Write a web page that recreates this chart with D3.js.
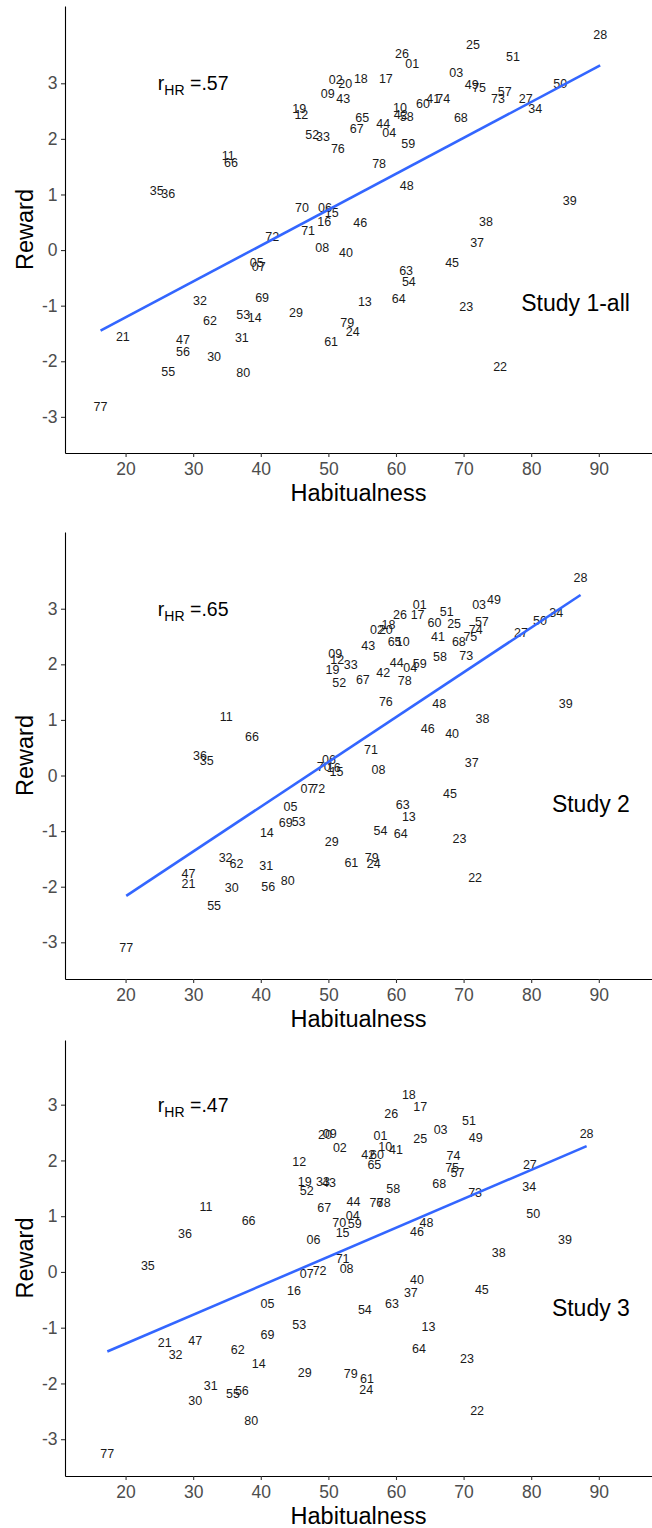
<!DOCTYPE html>
<html>
<head>
<meta charset="utf-8">
<script src="https://cdn.jsdelivr.net/npm/d3@7"></script>
<style>
  body { margin: 0; background: #fff; }
  text { font-family: "Liberation Sans", Arial, Helvetica, sans-serif; }
</style>
</head>
<body>
<svg id="chart" width="652" height="1528"></svg>
<script>
// Participant ids, used as the text label of every point
const ids = ["01","02","03","04","05","06","07","08","09","10",
  "11","12","13","14","15","16","17","18","19","20",
  "21","22","23","24","25","26","27","28","29","30",
  "31","32","33","34","35","36","37","38","39","40",
  "41","42","43","44","45","46","47","48","49","50",
  "51","52","53","54","55","56","57","58","59","60",
  "61","62","63","64","65","66","67","68","69","70",
  "71","72","73","74","75","76","77","78","79","80"]

// Study 1-all
const habit1 = [62.4,51.1,68.9,59.0,39.4,49.5,39.7,49.1,49.9,60.6,
  35.2,46.0,55.4,39.1,50.5,49.4,58.5,54.8,45.7,52.5,
  19.6,75.4,70.4,53.6,71.4,60.9,79.2,90.2,45.2,33.1,
  37.2,31.0,49.2,80.6,24.6,26.3,72.0,73.3,85.7,52.6,
  65.5,60.7,52.2,58.1,68.3,54.7,28.5,61.6,71.2,84.3,
  77.3,47.6,37.4,61.9,26.3,28.5,76.1,61.6,61.8,64.0,
  50.4,32.5,61.5,60.4,55.0,35.6,54.2,69.6,40.2,46.1,
  47.0,41.7,75.1,67.0,72.3,51.4,16.3,57.5,52.8,37.4]
const reward1 = [3.35,3.06,3.20,2.12,-0.22,0.77,-0.29,0.04,2.81,2.57,
  1.71,2.43,-0.92,-1.21,0.67,0.52,3.09,3.09,2.55,3.00,
  -1.55,-2.09,-1.01,-1.47,3.69,3.54,2.73,3.88,-1.12,-1.91,
  -1.58,-0.90,2.05,2.55,1.08,1.01,0.13,0.52,0.90,-0.04,
  2.73,2.43,2.72,2.27,-0.22,0.49,-1.60,1.17,2.97,3.00,
  3.49,2.07,-1.15,-0.56,-2.19,-1.83,2.86,2.41,1.91,2.64,
  -1.64,-1.26,-0.36,-0.88,2.39,1.58,2.18,2.39,-0.85,0.77,
  0.36,0.25,2.72,2.73,2.93,1.83,-2.82,1.56,-1.31,-2.21]

// Study 2
const habit2 = [63.5,57.2,72.3,62.1,44.4,50.1,46.9,57.4,51.0,61.0,
  34.9,51.3,61.9,40.9,51.2,50.8,63.2,58.9,50.6,58.5,
  29.3,71.7,69.4,56.7,68.6,60.6,78.5,87.3,50.5,35.7,
  40.8,34.8,53.3,83.7,32.0,31.0,71.2,72.8,85.1,68.3,
  66.2,58.1,55.9,60.1,68.0,64.7,29.3,66.4,74.5,81.3,
  67.5,51.6,45.6,57.7,33.1,41.1,72.7,66.5,63.5,65.7,
  53.4,36.4,61.0,60.7,59.8,38.7,55.1,69.3,43.7,49.3,
  56.3,48.5,70.4,71.8,71.0,58.5,20.1,61.3,56.4,44.0]
const reward2 = [3.07,2.63,3.07,1.94,-0.56,0.28,-0.23,0.10,2.19,2.41,
  1.06,2.08,-0.74,-1.03,0.07,0.15,2.89,2.71,1.91,2.63,
  -1.95,-1.83,-1.14,-1.58,2.74,2.90,2.57,3.57,-1.19,-2.01,
  -1.62,-1.47,2.00,2.93,0.27,0.36,0.24,1.02,1.30,0.76,
  2.50,1.86,2.33,2.04,-0.33,0.84,-1.76,1.30,3.16,2.78,
  2.95,1.68,-0.83,-0.99,-2.33,-2.00,2.77,2.14,2.02,2.75,
  -1.56,-1.58,-0.53,-1.04,2.41,0.71,1.73,2.41,-0.85,0.17,
  0.46,-0.23,2.16,2.63,2.50,1.33,-3.10,1.71,-1.47,-1.89]

// Study 3
const habit3 = [57.7,51.7,66.6,53.6,41.0,47.8,46.8,52.7,50.2,58.4,
  31.9,45.7,64.8,39.7,52.1,44.9,63.6,61.9,46.5,49.5,
  25.8,72.0,70.5,55.6,63.6,59.3,79.8,88.2,46.5,30.3,
  32.6,27.4,49.2,79.7,23.3,28.8,62.2,75.2,85.0,63.1,
  60.0,55.9,50.1,53.7,72.7,63.1,30.3,64.5,71.8,80.3,
  70.8,46.8,45.7,55.4,35.9,37.2,69.1,59.6,53.9,57.2,
  55.7,36.6,59.4,63.4,56.8,38.2,49.4,66.4,41.0,51.6,
  52.1,48.7,71.7,68.5,68.3,57.1,17.3,58.2,53.3,38.6]
const reward3 = [2.45,2.24,2.55,1.01,-0.57,0.59,-0.02,0.07,2.48,2.25,
  1.17,1.98,-0.97,-1.64,0.70,-0.34,2.97,3.18,1.63,2.46,
  -1.26,-2.48,-1.56,-2.11,2.40,2.84,1.92,2.48,-1.81,-2.30,
  -2.03,-1.48,1.63,1.53,0.12,0.69,-0.36,0.35,0.58,-0.13,
  2.20,2.11,1.60,1.26,-0.32,0.73,-1.23,0.89,2.41,1.04,
  2.72,1.46,-0.94,-0.67,-2.18,-2.12,1.79,1.49,0.86,2.11,
  -1.91,-1.39,-0.56,-1.37,1.93,0.92,1.16,1.59,-1.13,0.89,
  0.25,0.03,1.42,2.08,1.88,1.25,-3.25,1.25,-1.82,-2.67]

// Axis ticks and panel texts
const xTicks = [20, 30, 40, 50, 60, 70, 80, 90]
const yTicks = [-3, -2, -1, 0, 1, 2, 3]
const studyNames = ["Study 1-all", "Study 2", "Study 3"]
const rValues = [".57", ".65", ".47"]

const width = 652
const margin = { left: 65, right: 0 }
const xDomain = [11.04, 97.87]

// Layout of the three stacked panels (pixel top/bottom of each plot area)
const panels = [
  { habit: habit1, reward: reward1, top: 6, bottom: 453, yDomain: [-3.65, 4.39], nameY: -0.95 },
  { habit: habit2, reward: reward2, top: 532, bottom: 979, yDomain: [-3.66, 4.38], nameY: -0.51 },
  { habit: habit3, reward: reward3, top: 1040, bottom: 1476, yDomain: [-3.66, 4.16], nameY: -0.65 }
]

const svg = d3.select("#chart")

const x = d3.scaleLinear().domain(xDomain).range([margin.left, width - margin.right])

// Ordinary least squares line over the range of x, like geom_smooth(method = "lm")
const fitLine = (xs, ys) => {
  const mx = d3.mean(xs), my = d3.mean(ys)
  const slope = d3.sum(xs, (v, i) => (v - mx) * (ys[i] - my)) / d3.sum(xs, v => (v - mx) ** 2)
  return d3.extent(xs).map(v => [v, my + slope * (v - mx)])
}

const drawPanel = (p, i) => {
  const y = d3.scaleLinear().domain(p.yDomain).range([p.bottom, p.top])
  const g = svg.append("g")

  // x axis
  const xAxis = g.append("g")
    .attr("transform", `translate(0,${p.bottom})`)
    .call(d3.axisBottom(x).tickValues(xTicks).tickSize(4).tickSizeOuter(0).tickPadding(6))
  // y axis
  const yAxis = g.append("g")
    .attr("transform", `translate(${margin.left},0)`)
    .call(d3.axisLeft(y).tickValues(yTicks).tickFormat(d => String(d)).tickSize(4).tickSizeOuter(0).tickPadding(3.5))

  ;[xAxis, yAxis].forEach(a => {
    a.select(".domain").attr("stroke", "#000").attr("stroke-width", 1.1)
    a.selectAll(".tick line").attr("stroke", "#333").attr("stroke-width", 1.1)
    a.selectAll(".tick text").attr("fill", "#4d4d4d").style("font-size", "17.5px")
      .style("font-family", "'Liberation Sans', Arial, sans-serif")
  })

  // axis titles
  g.append("text")
    .attr("x", (margin.left + width - margin.right) / 2)
    .attr("y", p.bottom + 48)
    .attr("text-anchor", "middle")
    .style("font-size", "23.5px")
    .text("Habitualness")
  g.append("text")
    .attr("transform", `translate(33,${(p.top + p.bottom) / 2}) rotate(-90)`)
    .attr("text-anchor", "middle")
    .style("font-size", "23.5px")
    .text("Reward")

  // id labels at each point
  const clipId = "clip" + i
  g.append("clipPath").attr("id", clipId).append("rect")
    .attr("x", margin.left).attr("y", p.top)
    .attr("width", width - margin.left - margin.right).attr("height", p.bottom - p.top)

  const pts = g.append("g").attr("clip-path", `url(#${clipId})`)
  pts.selectAll("text.id")
    .data(ids)
    .enter()
    .append("text")
    .attr("class", "id")
    .attr("x", (d, j) => x(p.habit[j]))
    .attr("y", (d, j) => y(p.reward[j]))
    .attr("dy", "0.36em")
    .attr("text-anchor", "middle")
    .attr("fill", "#1a1a1a")
    .style("font-size", "12.5px")
    .text(d => d)

  // regression line
  pts.append("path")
    .datum(fitLine(p.habit, p.reward))
    .attr("fill", "none")
    .attr("stroke", "#3366FF")
    .attr("stroke-width", 2.6)
    .attr("d", d3.line().x(d => x(d[0])).y(d => y(d[1])))

  // correlation annotation, r with subscript HR
  const r = g.append("text")
    .attr("x", x(30))
    .attr("y", y(3) + 7)
    .attr("text-anchor", "middle")
    .attr("fill", "#000")
    .style("font-size", "19.5px")
  r.append("tspan").text("r")
  r.append("tspan").attr("dy", 5).style("font-size", "14px").text("HR")
  r.append("tspan").attr("dy", -5).text(" =" + rValues[i])

  // study name
  g.append("text")
    .attr("x", x(94.6))
    .attr("y", y(p.nameY))
    .attr("dy", "0.36em")
    .attr("text-anchor", "end")
    .attr("fill", "#000")
    .style("font-size", "23px")
    .text(studyNames[i])
}

panels.forEach(drawPanel)
</script>
</body>
</html>
